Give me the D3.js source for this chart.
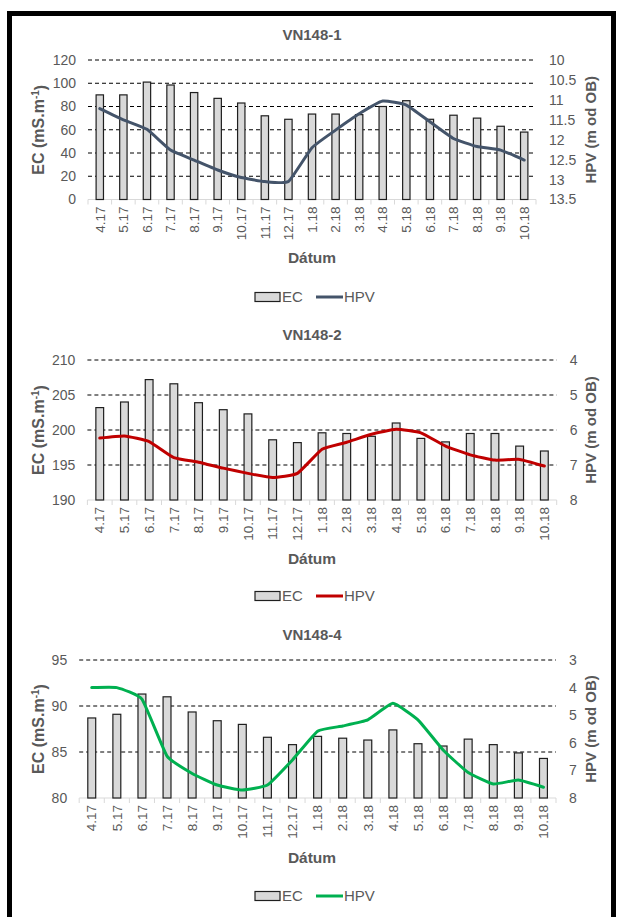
<!DOCTYPE html>
<html>
<head>
<meta charset="utf-8">
<script src="https://cdn.jsdelivr.net/npm/d3@7"></script>
<style>
  html, body { margin: 0; padding: 0; background: #fff; }
  svg { display: block; font-family: "Liberation Sans", Arial, sans-serif; }
</style>
</head>
<body>
<svg id="chart" width="618" height="917"></svg>
<script>
// Monthly sampling dates (month.year)
const months = ["4.17","5.17","6.17","7.17","8.17","9.17","10.17","11.17","12.17",
                "1.18","2.18","3.18","4.18","5.18","6.18","7.18","8.18","9.18","10.18"];

// VN148-1
const ec1  = [90, 90, 101, 98.5, 92, 87, 83, 72, 69, 73.5, 73.5, 73, 80, 85, 69, 72.5, 70, 63, 58];
const hpv1 = [11.22, 11.5, 11.74, 12.26, 12.51, 12.76, 12.95, 13.05, 13.05, 12.2, 11.76, 11.35, 11.03, 11.13, 11.55, 11.97, 12.17, 12.26, 12.51];
const ecTicks1  = [0, 20, 40, 60, 80, 100, 120];
const hpvTicks1 = [10, 10.5, 11, 11.5, 12, 12.5, 13, 13.5];

// VN148-2
const ec2  = [203.2, 204.0, 207.2, 206.6, 203.9, 202.9, 202.3, 198.6, 198.2, 199.6, 199.5, 199.1, 201.0, 198.8, 198.3, 199.5, 199.5, 197.7, 197.0];
const hpv2 = [6.23, 6.17, 6.33, 6.79, 6.92, 7.09, 7.24, 7.36, 7.24, 6.55, 6.35, 6.12, 5.98, 6.08, 6.46, 6.71, 6.86, 6.84, 7.03];
const ecTicks2  = [190, 195, 200, 205, 210];
const hpvTicks2 = [4, 5, 6, 7, 8];

// VN148-4
const ec3  = [88.7, 89.1, 91.3, 91.0, 89.35, 88.4, 88.0, 86.6, 85.8, 86.7, 86.5, 86.3, 87.4, 85.9, 85.65, 86.4, 85.8, 84.9, 84.3];
const hpv3 = [4.0, 4.0, 4.42, 6.48, 7.11, 7.53, 7.71, 7.53, 6.62, 5.58, 5.39, 5.17, 4.57, 5.17, 6.26, 7.08, 7.49, 7.35, 7.61];
const ecTicks3  = [80, 85, 90, 95];
const hpvTicks3 = [3, 4, 5, 6, 7, 8];

const titles = ["VN148-1", "VN148-2", "VN148-4"];

// Layout and styling of each panel
const panels = [
  { title: titles[0], ec: ec1, hpv: hpv1, ecTicks: ecTicks1, hpvTicks: hpvTicks1, color: "#44546a",
    l: 88, r: 536, t: 60, b: 199.5, titleY: 35, xTitleY: 258, legendY: 297 },
  { title: titles[1], ec: ec2, hpv: hpv2, ecTicks: ecTicks2, hpvTicks: hpvTicks2, color: "#c00000",
    l: 87.4, r: 556.7, t: 360, b: 500, titleY: 335, xTitleY: 559, legendY: 596 },
  { title: titles[2], ec: ec3, hpv: hpv3, ecTicks: ecTicks3, hpvTicks: hpvTicks3, color: "#00b050",
    l: 79.2, r: 556, t: 660, b: 798, titleY: 635, xTitleY: 858, legendY: 896 }
];

const TEXT = "#595959";
const svg = d3.select("#chart");

svg.append("rect").attr("width", 618).attr("height", 917).attr("fill", "#fff");

panels.forEach(p => {
  const g = svg.append("g");

  const x = d3.scaleBand().domain(months).range([p.l, p.r])
    .paddingInner(0.645).paddingOuter(0.3225);
  const yL = d3.scaleLinear().domain(d3.extent(p.ecTicks)).range([p.b, p.t]);
  const yR = d3.scaleLinear().domain(d3.extent(p.hpvTicks)).range([p.t, p.b]);

  // Title
  g.append("text").attr("x", 312).attr("y", p.titleY).attr("dy", "0.35em")
    .attr("text-anchor", "middle").attr("font-size", 15).attr("font-weight", "bold")
    .attr("fill", TEXT).text(p.title);

  // Dashed horizontal gridlines
  g.append("g").selectAll("line")
    .data(p.ecTicks.slice(1))
    .join("line")
    .attr("x1", p.l).attr("x2", p.r)
    .attr("y1", d => yL(d)).attr("y2", d => yL(d))
    .attr("stroke", "#000").attr("stroke-width", 1)
    .attr("stroke-dasharray", "4,3");

  // Left axis (EC)
  const axL = g.append("g").attr("transform", `translate(${p.l},0)`)
    .call(d3.axisLeft(yL).tickValues(p.ecTicks).tickSize(0).tickPadding(12).tickFormat(d3.format("d")));
  axL.select(".domain").remove();
  axL.selectAll("text").attr("font-size", 14).attr("fill", TEXT).attr("font-family", null);

  // Right axis (HPV, reversed)
  const axR = g.append("g").attr("transform", `translate(${p.r},0)`)
    .call(d3.axisRight(yR).tickValues(p.hpvTicks).tickSize(0).tickPadding(13).tickFormat(d => String(d)));
  axR.select(".domain").remove();
  axR.selectAll("text").attr("font-size", 14).attr("fill", TEXT).attr("font-family", null);

  // Category axis line and boundary ticks
  g.append("line").attr("x1", p.l).attr("x2", p.r).attr("y1", p.b).attr("y2", p.b)
    .attr("stroke", "#d9d9d9").attr("stroke-width", 1);
  g.append("g").selectAll("line")
    .data(d3.range(months.length + 1))
    .join("line")
    .attr("x1", i => p.l + i * x.step()).attr("x2", i => p.l + i * x.step())
    .attr("y1", p.b).attr("y2", p.b + 5)
    .attr("stroke", "#d9d9d9").attr("stroke-width", 1);

  // EC bars
  g.append("g").selectAll("rect")
    .data(p.ec)
    .join("rect")
    .attr("x", (d, i) => x(months[i]) + 0.5)
    .attr("y", d => yL(d))
    .attr("width", x.bandwidth() - 1)
    .attr("height", d => yL(yL.domain()[0]) - yL(d))
    .attr("fill", "#d9d9d9").attr("stroke", "#1f1f1f").attr("stroke-width", 1.2);

  // HPV line (lightly smoothed)
  const line = d3.line()
    .x((d, i) => x(months[i]) + x.bandwidth() / 2)
    .y(d => yR(d))
    .curve(d3.curveCardinal.tension(0.6));
  g.append("path").datum(p.hpv).attr("d", line)
    .attr("fill", "none").attr("stroke", p.color).attr("stroke-width", 3)
    .attr("stroke-linejoin", "round").attr("stroke-linecap", "round");

  // Rotated month labels
  g.append("g").selectAll("text")
    .data(months)
    .join("text")
    .attr("transform", d => `translate(${x(d) + x.bandwidth() / 2},${p.b + 7}) rotate(-90)`)
    .attr("text-anchor", "end").attr("dy", "0.35em")
    .attr("font-size", 13.5).attr("fill", TEXT)
    .text(d => d);

  // Axis titles
  g.append("text").attr("x", 312).attr("y", p.xTitleY).attr("dy", "0.35em")
    .attr("text-anchor", "middle").attr("font-size", 15.5).attr("font-weight", "bold")
    .attr("fill", TEXT).text("Dátum");

  const lt = g.append("text")
    .attr("transform", `translate(38,${(p.t + p.b) / 2}) rotate(-90)`)
    .attr("text-anchor", "middle").attr("dy", "0.35em")
    .attr("font-size", 16).attr("font-weight", "bold").attr("fill", TEXT);
  lt.append("tspan").text("EC (mS.m");
  lt.append("tspan").attr("dy", "-0.45em").attr("font-size", 10).text("-1");
  lt.append("tspan").attr("dy", "0.45em").text(")");

  g.append("text")
    .attr("transform", `translate(591,${(p.t + p.b) / 2}) rotate(-90)`)
    .attr("text-anchor", "middle").attr("dy", "0.35em")
    .attr("font-size", 15).attr("font-weight", "bold").attr("fill", TEXT)
    .text("HPV (m od OB)");

  // Legend
  const lg = g.append("g").attr("transform", `translate(0,${p.legendY})`);
  lg.append("rect").attr("x", 255).attr("y", -4.5).attr("width", 25).attr("height", 9)
    .attr("fill", "#d9d9d9").attr("stroke", "#1f1f1f").attr("stroke-width", 1.2);
  lg.append("text").attr("x", 282).attr("y", 0).attr("dy", "0.35em")
    .attr("font-size", 15).attr("fill", TEXT).text("EC");
  lg.append("line").attr("x1", 316).attr("x2", 343).attr("y1", 0).attr("y2", 0)
    .attr("stroke", p.color).attr("stroke-width", 3);
  lg.append("text").attr("x", 344).attr("y", 0).attr("dy", "0.35em")
    .attr("font-size", 15).attr("fill", TEXT).text("HPV");
});

// Outer frame
svg.append("rect").attr("x", 9.5).attr("y", 13.5).attr("width", 604).attr("height", 1000)
  .attr("fill", "none").attr("stroke", "#000").attr("stroke-width", 5);
</script>
</body>
</html>
